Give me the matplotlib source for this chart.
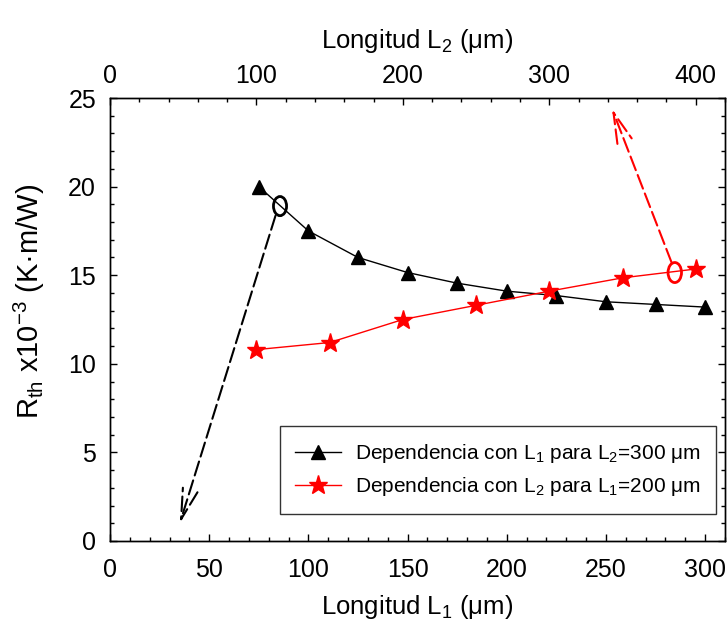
import matplotlib
matplotlib.use("Agg")
import matplotlib.pyplot as plt
from matplotlib.patches import Ellipse, FancyArrowPatch
from matplotlib.lines import Line2D
from matplotlib.ticker import MultipleLocator

plt.rcParams["font.family"] = ["Liberation Sans", "DejaVu Sans"]
plt.rcParams["mathtext.fontset"] = "custom"
plt.rcParams["mathtext.rm"] = "Liberation Sans"
plt.rcParams["mathtext.it"] = "Liberation Sans:italic"
plt.rcParams["mathtext.default"] = "regular"

# Thermal resistance vs. length L1 (L2 fixed at 300 um)
L1_um = [75, 100, 125, 150, 175, 200, 225, 250, 275, 300]
rth_vs_L1 = [20.0, 17.5, 16.0, 15.15, 14.55, 14.1, 13.85, 13.5, 13.35, 13.2]

# Thermal resistance vs. length L2 (L1 fixed at 200 um)
L2_um = [100, 150, 200, 250, 300, 350, 400]
rth_vs_L2 = [10.8, 11.2, 12.5, 13.3, 14.1, 14.85, 15.35]

label_L1 = "Dependencia con L$_1$ para L$_2$=300 μm"
label_L2 = "Dependencia con L$_2$ para L$_1$=200 μm"

TICK_FS = 18
LABEL_FS = 18.5
YLABEL_FS = 21
LEGEND_FS = 15

fig = plt.figure(figsize=(7.28, 6.26), dpi=100)
ax = fig.add_axes([110 / 728, 1 - 541 / 626, 615 / 728, 443 / 626])
ax2 = ax.twiny()

ax.set_xlim(0, 310)
ax.set_ylim(0, 25)
ax2.set_xlim(0, 420)

# bottom axis: L1
ax.xaxis.set_major_locator(MultipleLocator(50))
ax.xaxis.set_minor_locator(MultipleLocator(10))
ax.yaxis.set_major_locator(MultipleLocator(5))
ax.yaxis.set_minor_locator(MultipleLocator(1))
ax.tick_params(axis="both", which="both", direction="in", top=False,
               right=True, width=1.0, labelsize=TICK_FS)
ax.tick_params(axis="both", which="major", length=5)
ax.tick_params(axis="both", which="minor", length=3)
ax.tick_params(axis="x", pad=12)
ax.tick_params(axis="y", pad=10)

# top axis: L2
ax2.xaxis.set_major_locator(MultipleLocator(100))
ax2.xaxis.set_minor_locator(MultipleLocator(20))
ax2.tick_params(axis="x", which="both", direction="in", width=1.0,
                labelsize=TICK_FS, pad=7)
ax2.tick_params(axis="x", which="major", length=5)
ax2.tick_params(axis="x", which="minor", length=3)

for a in (ax, ax2):
    for s in a.spines.values():
        s.set_linewidth(1.0)

ax.set_xlabel("Longitud L$_1$ (μm)", fontsize=LABEL_FS, labelpad=8)
ax2.set_xlabel("Longitud L$_2$ (μm)", fontsize=LABEL_FS, labelpad=12)
ax.set_ylabel("R$_{th}$ x10$^{-3}$ (K·m/W)", fontsize=YLABEL_FS)
ax.yaxis.set_label_coords(-0.103, 0.542)

ax.plot(L1_um, rth_vs_L1, color="black", lw=1.0, marker="^", ms=9.5,
        mfc="black", mec="black", zorder=3)
ax2.plot(L2_um, rth_vs_L2, color="red", lw=1.0, marker="*", ms=14,
         mfc="red", mec="red", zorder=3)

# highlight rings and arrows pointing to each curve's own axis
dash = (0, (7, 2.5))
ax.add_patch(Ellipse((85.7, 18.9), 6.6, 1.08, fill=False, ec="black",
                     lw=2.0, zorder=4))
ax.add_patch(FancyArrowPatch((83.4, 18.35), (35.2, 1.0),
                             arrowstyle="->,head_length=22,head_width=5.5",
                             mutation_scale=1, color="black", lw=1.5,
                             linestyle=dash, shrinkA=0, shrinkB=0, zorder=4))

ax2.add_patch(Ellipse((385.7, 15.15), 9.2, 1.13, fill=False, ec="red",
                      lw=2.0, zorder=4))
ax2.add_patch(FancyArrowPatch((383.5, 15.72), (342.8, 24.4),
                              arrowstyle="->,head_length=22,head_width=5.5",
                              mutation_scale=1, color="red", lw=1.5,
                              linestyle=dash, shrinkA=0, shrinkB=0, zorder=4))

handles = [
    Line2D([], [], color="black", lw=1.0, marker="^", ms=9.5),
    Line2D([], [], color="red", lw=1.0, marker="*", ms=14),
]
leg = ax2.legend(handles, [label_L1, label_L2], loc="lower right",
                 bbox_to_anchor=(0.985, 0.061), fontsize=LEGEND_FS,
                 frameon=True, fancybox=False, framealpha=1,
                 edgecolor="#333333", borderaxespad=0, handlelength=2.2,
                 borderpad=0.75, labelspacing=0.5, handletextpad=0.65)
leg.get_frame().set_linewidth(1.0)

fig.savefig("out.png", dpi=100)
